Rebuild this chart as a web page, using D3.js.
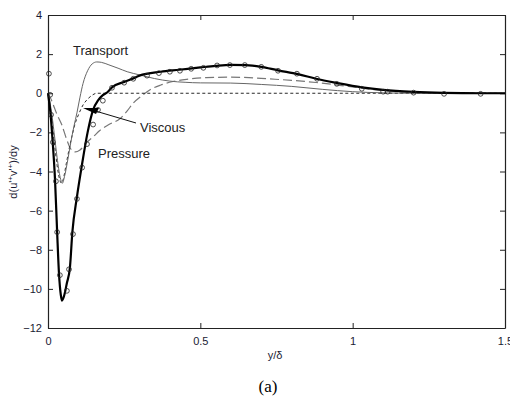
<!DOCTYPE html>
<html>
<head>
<meta charset="utf-8">
<script src="https://cdn.jsdelivr.net/npm/d3@7"></script>
<style>
  body { margin: 0; background: #fff; }
  svg { display: block; font-family: Arial, "Liberation Sans", sans-serif; }
</style>
</head>
<body>
<svg width="510" height="399"></svg>
<script>
// total (thick line), [y/delta, value]
const totalCurve = [
  [0, 0], [0.008, -1.0], [0.015, -2.4], [0.023, -4.4], [0.03, -7.1], [0.036, -9.2],
  [0.042, -10.3], [0.046, -10.6], [0.052, -10.4], [0.062, -9.7], [0.072, -8.9],
  [0.08, -7.1], [0.095, -5.3], [0.11, -3.8], [0.13, -2.0], [0.148, -0.85],
  [0.165, -0.35], [0.18, -0.1], [0.195, 0.05], [0.21, 0.3], [0.25, 0.58],
  [0.28, 0.76], [0.3, 0.9], [0.37, 1.1], [0.43, 1.2], [0.5, 1.32], [0.55, 1.4],
  [0.6, 1.45], [0.65, 1.44], [0.7, 1.35], [0.755, 1.17], [0.82, 0.98],
  [0.88, 0.74], [0.95, 0.52], [1.03, 0.3], [1.1, 0.17], [1.2, 0.07],
  [1.3, 0.02], [1.42, 0], [1.5, 0]
];

// open circles
const dnsPoints = [
  [0.003, 1.0], [0.007, -0.08], [0.01, -1.1], [0.016, -2.5], [0.026, -4.5],
  [0.03, -7.1], [0.039, -9.3], [0.062, -10.1], [0.069, -9.0], [0.082, -7.2],
  [0.095, -5.4], [0.112, -3.8], [0.128, -2.6], [0.148, -1.6], [0.164, -0.85],
  [0.18, -0.38], [0.21, 0.28], [0.25, 0.54], [0.28, 0.74], [0.325, 0.9],
  [0.364, 1.03], [0.40, 1.1], [0.433, 1.15], [0.47, 1.25], [0.51, 1.3],
  [0.555, 1.42], [0.597, 1.44], [0.646, 1.44], [0.70, 1.35], [0.755, 1.15],
  [0.817, 1.0], [0.883, 0.74], [0.948, 0.48], [1.03, 0.23], [1.1, 0.08],
  [1.115, 0.08], [1.2, 0.03], [1.3, -0.03], [1.42, -0.03]
];

const transportCurve = [
  [0, 0], [0.01, -0.8], [0.02, -2.0], [0.03, -3.3], [0.04, -4.3], [0.047, -4.6],
  [0.055, -4.2], [0.065, -3.4], [0.075, -2.5], [0.085, -1.7], [0.095, -1.0],
  [0.105, -0.2], [0.115, 0.5], [0.13, 1.15], [0.145, 1.5], [0.16, 1.6],
  [0.175, 1.58], [0.2, 1.45], [0.23, 1.28], [0.26, 1.1], [0.3, 0.94],
  [0.35, 0.75], [0.4, 0.62], [0.45, 0.56], [0.5, 0.53], [0.6, 0.52],
  [0.7, 0.45], [0.8, 0.35], [0.9, 0.2], [1.0, 0.08], [1.1, 0.02], [1.2, 0], [1.5, 0]
];

const pressureCurve = [
  [0, 0], [0.01, -0.3], [0.02, -0.7], [0.03, -1.1], [0.045, -1.6], [0.06, -2.3],
  [0.075, -2.85], [0.09, -3.0], [0.105, -2.9], [0.128, -2.5], [0.15, -2.2],
  [0.17, -1.9], [0.2, -1.6], [0.236, -1.3], [0.26, -0.9], [0.28, -0.5],
  [0.31, -0.1], [0.335, 0.18], [0.37, 0.42], [0.41, 0.6], [0.46, 0.72],
  [0.52, 0.8], [0.6, 0.82], [0.66, 0.8], [0.72, 0.74], [0.8, 0.66],
  [0.88, 0.55], [0.95, 0.42], [1.02, 0.28], [1.1, 0.13], [1.2, 0.04],
  [1.3, 0.01], [1.5, 0]
];

const viscousCurve = [
  [0, 0], [0.01, -1.0], [0.02, -2.4], [0.03, -3.7], [0.04, -4.5], [0.045, -4.6],
  [0.05, -4.4], [0.06, -3.6], [0.07, -2.8], [0.08, -2.1], [0.09, -1.5],
  [0.1, -1.1], [0.115, -0.6], [0.13, -0.3], [0.145, -0.1], [0.16, 0], [1.5, 0]
];

const xTicks = [0, 0.5, 1, 1.5];
const yTicks = [-12, -10, -8, -6, -4, -2, 0, 2, 4];

const svg = d3.select("svg");
const padL = 48, padR = 505, padT = 15, padB = 328;

const x = d3.scaleLinear().domain([0, 1.5]).range([padL, padR]);
const y = d3.scaleLinear().domain([-12, 4]).range([padB, padT]);

const line = d3.line()
  .x(d => x(d[0]))
  .y(d => y(d[1]))
  .curve(d3.curveMonotoneX);

// axes (matlab style box, ticks inside)
const axisColor = "#222";
svg.append("g")
  .attr("transform", `translate(0,${padB})`)
  .call(d3.axisBottom(x).tickValues(xTicks).tickSizeInner(-5).tickSizeOuter(0).tickPadding(9)
    .tickFormat(d3.format("")));
svg.append("g")
  .attr("transform", `translate(${padL},0)`)
  .call(d3.axisLeft(y).tickValues(yTicks).tickSizeInner(-5).tickSizeOuter(0).tickPadding(6));
svg.append("g")
  .attr("transform", `translate(0,${padT})`)
  .call(d3.axisTop(x).tickValues(xTicks).tickSizeInner(-5).tickSizeOuter(0).tickFormat(""));
svg.append("g")
  .attr("transform", `translate(${padR},0)`)
  .call(d3.axisRight(y).tickValues(yTicks).tickSizeInner(-5).tickSizeOuter(0).tickFormat(""));

svg.selectAll(".domain").attr("stroke", axisColor).attr("stroke-width", 1.2);
svg.selectAll(".tick line").attr("stroke", axisColor);
svg.selectAll(".tick text").attr("fill", "#1a1a33").attr("font-size", 11)
  .attr("font-family", "Arial, 'Liberation Sans', sans-serif");

// curves
const g = svg.append("g");
g.append("path").datum(pressureCurve).attr("d", line)
  .attr("fill", "none").attr("stroke", "#777").attr("stroke-width", 1.2)
  .attr("stroke-dasharray", "9,4");
g.append("path").datum(viscousCurve).attr("d", line)
  .attr("fill", "none").attr("stroke", "#111").attr("stroke-width", 0.9)
  .attr("stroke-dasharray", "3,2.5");
g.append("path").datum(transportCurve).attr("d", line)
  .attr("fill", "none").attr("stroke", "#666").attr("stroke-width", 1);
g.append("path").datum(totalCurve).attr("d", line)
  .attr("fill", "none").attr("stroke", "#000").attr("stroke-width", 2.2);

g.selectAll("circle").data(dnsPoints).join("circle")
  .attr("cx", d => x(d[0])).attr("cy", d => y(d[1])).attr("r", 2.4)
  .attr("fill", "none").attr("stroke", "#222").attr("stroke-width", 0.8);

// annotations
const labelColor = "#222";
svg.append("text").attr("x", 73).attr("y", 55).attr("font-size", 13).attr("fill", labelColor).text("Transport");
svg.append("text").attr("x", 140).attr("y", 132).attr("font-size", 13).attr("fill", labelColor).text("Viscous");
svg.append("text").attr("x", 98).attr("y", 158).attr("font-size", 13).attr("fill", labelColor).text("Pressure");

// viscous arrow
svg.append("line").attr("x1", 92).attr("y1", 110).attr("x2", 136).attr("y2", 123)
  .attr("stroke", "#111").attr("stroke-width", 1);
svg.append("path").attr("d", "M83,108 L99,108 L96,114 Z").attr("fill", "#000");

// axis labels
svg.append("text").attr("x", 275).attr("y", 359).attr("text-anchor", "middle")
  .attr("font-size", 11).attr("fill", "#1a1a33").text("y/δ");

const yl = svg.append("text")
  .attr("transform", "translate(17,172) rotate(-90)")
  .attr("text-anchor", "middle").attr("font-size", 11).attr("fill", "#1a1a33");
yl.append("tspan").text("d(u'");
yl.append("tspan").attr("dy", -4).attr("font-size", 8).text("+");
yl.append("tspan").attr("dy", 4).text("v'");
yl.append("tspan").attr("dy", -4).attr("font-size", 8).text("+");
yl.append("tspan").attr("dy", 4).text(")/dy");

svg.append("text").attr("x", 268).attr("y", 392).attr("text-anchor", "middle")
  .attr("font-family", "'Liberation Serif', 'Times New Roman', serif").attr("font-size", 17)
  .attr("fill", "#000").text("(a)");
</script>
</body>
</html>
